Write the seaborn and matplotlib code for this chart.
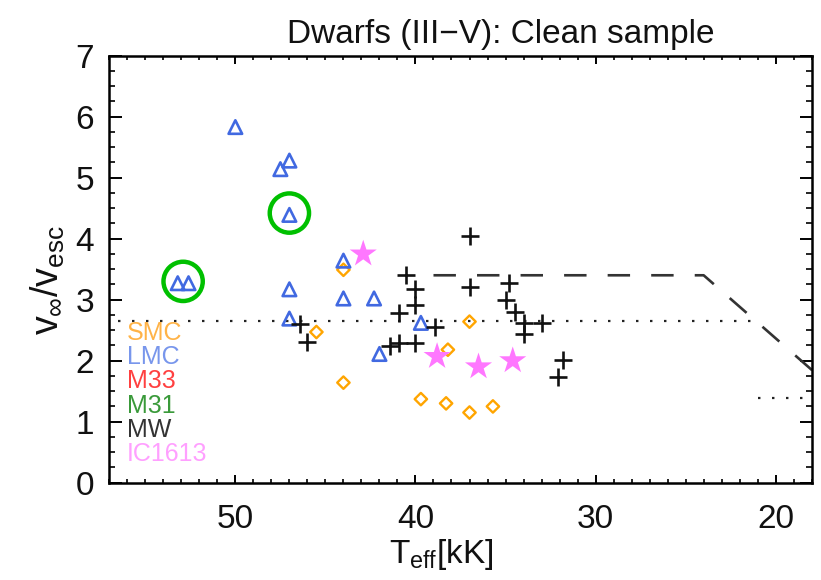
import matplotlib
matplotlib.use("Agg")
import matplotlib.pyplot as plt
import seaborn as sns
import pandas as pd
from matplotlib.ticker import MultipleLocator

# ---------------- data ----------------
smc_T = [44.0, 45.5, 44.0, 37.0, 38.2, 39.7, 38.3, 37.0, 35.7]
smc_v = [3.49, 2.47, 1.64, 2.64, 2.18, 1.37, 1.30, 1.15, 1.25]

lmc_T = [53.2, 52.6, 50.0, 47.5, 47.0, 47.0, 47.0, 47.0, 44.0, 44.0, 42.3, 42.0, 39.7]
lmc_v = [3.27, 3.27, 5.83, 5.14, 5.28, 4.39, 3.17, 2.69, 3.64, 3.02, 3.02, 2.11, 2.62]

mw_T = [46.4, 46.0, 37.0, 40.5, 40.0, 40.0, 40.9, 38.9, 37.0, 34.8, 35.0, 34.5,
        34.0, 34.0, 33.0, 41.4, 40.9, 40.0, 31.8, 32.1]
mw_v = [2.60, 2.31, 4.04, 3.40, 3.17, 2.91, 2.78, 2.56, 3.20, 3.28, 3.00, 2.80,
        2.61, 2.44, 2.62, 2.24, 2.29, 2.29, 2.01, 1.73]

ic_T = [42.9, 38.8, 36.5, 34.6]
ic_v = [3.75, 2.07, 1.90, 2.00]

circ_T = [47.0, 52.9]
circ_v = [4.42, 3.30]

dash_T = [39.0, 24.0, 17.5]
dash_v = [3.40, 3.40, 1.72]

dot_hot_T = [56.5, 21.0]
dot_hot_v = [2.65, 2.65]
dot_cool_T = [21.0, 18.0]
dot_cool_v = [1.39, 1.39]

legend_labels = ["SMC", "LMC", "M33", "M31", "MW", "IC1613"]
legend_colors = ["#FFB347", "#7896EC", "#FF4040", "#3A9A3A", "#333333", "#FFA0FF"]

title = "Dwarfs (III\u2212V): Clean sample"
x_ticks = [50, 40, 30, 20]
y_ticks = [0, 1, 2, 3, 4, 5, 6, 7]

# ---------------- style ----------------
sns.set_theme(style="ticks")
plt.rcParams["font.family"] = ["Liberation Sans", "DejaVu Sans"]
plt.rcParams["mathtext.fontset"] = "custom"
plt.rcParams["mathtext.rm"] = "Liberation Sans"
plt.rcParams["mathtext.it"] = "Liberation Sans"
plt.rcParams["mathtext.bf"] = "Liberation Sans:bold"

fig = plt.figure(figsize=(8.21, 5.80), dpi=100)
ax = fig.add_axes([0.1331, 0.1678, 0.8556, 0.7362])

# lines
sns.lineplot(x=dash_T, y=dash_v, ax=ax, color="#333333", lw=1.9, sort=False,
             estimator=None)
ax.lines[-1].set_dashes([8.5, 8])
sns.lineplot(x=dot_hot_T, y=dot_hot_v, ax=ax, color="#222222", lw=1.6, sort=False,
             estimator=None)
ax.lines[-1].set_dashes([1.1, 5.2])
sns.lineplot(x=dot_cool_T, y=dot_cool_v, ax=ax, color="#222222", lw=1.6, sort=False,
             estimator=None)
ax.lines[-1].set_dashes([1.1, 5.2])

# points
sns.scatterplot(x=smc_T, y=smc_v, ax=ax, marker="D", s=40, color="#FFA500",
                facecolor="none", edgecolor="#FFA500", linewidth=1.7, zorder=3)
sns.scatterplot(x=lmc_T, y=lmc_v, ax=ax, marker="^", s=95, color="#4169E1",
                facecolor="none", edgecolor="#4169E1", linewidth=1.9, zorder=4)
sns.scatterplot(x=mw_T, y=mw_v, ax=ax, marker="+", s=160, color="#111111",
                linewidth=1.9, zorder=4)
sns.scatterplot(x=ic_T, y=ic_v, ax=ax, marker="*", s=420, color="#FF77FF",
                edgecolor="none", zorder=5)
sns.scatterplot(x=circ_T, y=circ_v, ax=ax, marker="o", s=800, color="#00C000",
                facecolor="none", edgecolor="#00C000", linewidth=3.2, zorder=6)

# axes
ax.set_xlim(57, 18)
ax.set_ylim(0, 7)
ax.set_xticks(x_ticks)
ax.set_yticks(y_ticks)
ax.xaxis.set_minor_locator(MultipleLocator(1))
ax.yaxis.set_minor_locator(MultipleLocator(0.25))
ax.tick_params(axis="both", which="both", direction="in", top=True, right=True,
               color="black", labelsize=24, labelcolor="#111111")
ax.tick_params(axis="x", which="major", length=6, width=1.4, pad=15)
ax.tick_params(axis="x", which="minor", length=3, width=1.2)
ax.tick_params(axis="y", which="major", length=9, width=1.4, pad=11)
ax.tick_params(axis="y", which="minor", length=4.5, width=1.2)
for sp in ax.spines.values():
    sp.set_linewidth(1.8)
    sp.set_color("black")

ax.set_xlabel(r"$T_{eff}$[kK]", fontsize=24, color="#111111")
ax.xaxis.set_label_coords(0.472, -0.127)
ax.set_ylabel(r"$v_{\infty}/v_{esc}$", fontsize=27, color="#111111")
ax.yaxis.set_label_coords(-0.06, 0.475)
ax.set_title(title, fontsize=24, color="#111111", x=0.5577, pad=9)

# text legend
for i, (lab, col) in enumerate(zip(legend_labels, legend_colors)):
    ax.text(0.0252, 0.3506 - i * 0.0567, lab, transform=ax.transAxes,
            color=col, fontsize=18, ha="left", va="center")

fig.savefig("out.png", dpi=100)
